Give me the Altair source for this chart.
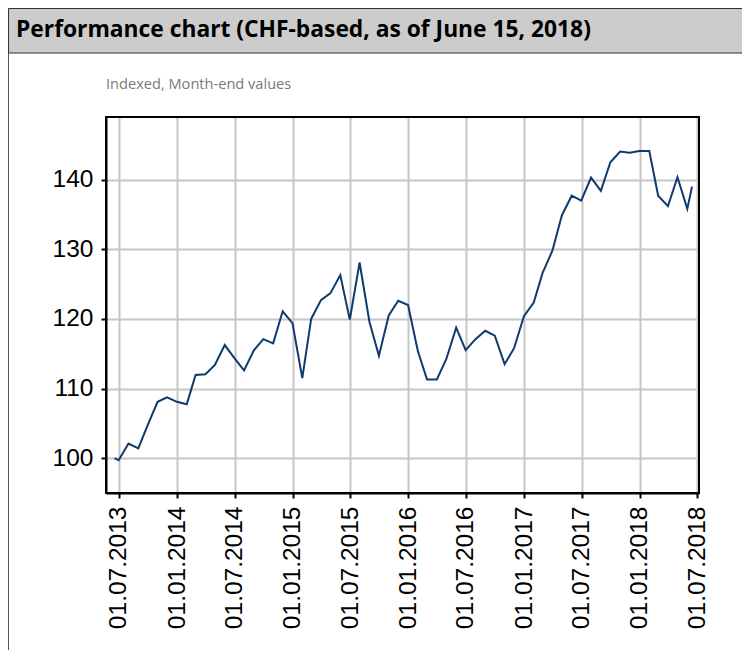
import altair as alt
import pandas as pd

# ---- data ----
dates = [
    "2013-06-17", "2013-06-30", "2013-07-31", "2013-08-31", "2013-09-30", "2013-10-31",
    "2013-11-30", "2013-12-31", "2014-01-31", "2014-02-28", "2014-03-31", "2014-04-30",
    "2014-05-31", "2014-06-30", "2014-07-31", "2014-08-31", "2014-09-30", "2014-10-31",
    "2014-11-30", "2014-12-31", "2015-01-31", "2015-02-28", "2015-03-31", "2015-04-30",
    "2015-05-31", "2015-06-30", "2015-07-31", "2015-08-31", "2015-09-30", "2015-10-31",
    "2015-11-30", "2015-12-31", "2016-01-31", "2016-02-29", "2016-03-31", "2016-04-30",
    "2016-05-31", "2016-06-30", "2016-07-31", "2016-08-31", "2016-09-30", "2016-10-31",
    "2016-11-30", "2016-12-31", "2017-01-31", "2017-02-28", "2017-03-31", "2017-04-30",
    "2017-05-31", "2017-06-30", "2017-07-31", "2017-08-31", "2017-09-30", "2017-10-31",
    "2017-11-30", "2017-12-31", "2018-01-31", "2018-02-28", "2018-03-31", "2018-04-30",
    "2018-05-31", "2018-06-15",
]
values = [
    100.0, 99.7, 102.1, 101.4, 104.8, 108.1,
    108.75, 108.1, 107.75, 111.95, 112.05, 113.4,
    116.25, 114.4, 112.6, 115.5, 117.1, 116.5,
    121.1, 119.4, 111.5, 120.0, 122.7, 123.7,
    126.3, 119.9, 128.1, 119.6, 114.7, 120.5,
    122.6, 122.0, 115.4, 111.3, 111.3, 114.25,
    118.75, 115.5, 117.1, 118.3, 117.6, 113.5,
    115.8, 120.4, 122.35, 126.6, 129.8, 134.9,
    137.7, 137.0, 140.3, 138.4, 142.5, 144.05,
    143.85, 144.1, 144.1, 137.7, 136.2, 140.35,
    135.8, 139.0,
]
x_ticks = [(2013, 7), (2014, 1), (2014, 7), (2015, 1), (2015, 7), (2016, 1),
           (2016, 7), (2017, 1), (2017, 7), (2018, 1), (2018, 7)]
y_ticks = [100, 110, 120, 130, 140]
title_text = "Performance chart (CHF-based, as of June 15, 2018)"
subtitle_text = "Indexed, Month-end values"

df = pd.DataFrame({"date": dates, "value": values})
one = pd.DataFrame({"k": [0]})

W, H = 593, 376
PAD_L, PAD_T = 98, 109
CANVAS_W, CANVAS_H = 734, 642

x_scale = alt.Scale(
    type="utc",
    domain=[alt.DateTime(year=2013, month=5, date=21, utc=True),
            alt.DateTime(year=2018, month=7, date=7, utc=True)],
)
y_scale = alt.Scale(domain=[95, 149], nice=False, zero=False)

line = alt.Chart(df).mark_line(color="#0d3b6c", strokeWidth=2).encode(
    x=alt.X("date:T", scale=x_scale,
            axis=alt.Axis(
                values=[alt.DateTime(year=y, month=m, date=1, utc=True) for y, m in x_ticks],
                format="%d.%m.%Y", labelAngle=-90, labelAlign="right",
                labelBaseline="middle", title=None, labelFontSize=24.5,
                labelFont="Liberation Sans", labelColor="#000", labelPadding=8,
                tickColor="#000", tickSize=5, tickWidth=2,
                domainColor="#000", domainWidth=2,
                gridColor="#c6c6c6", gridWidth=2, labelOverlap=False,
            )),
    y=alt.Y("value:Q", scale=y_scale,
            axis=alt.Axis(
                values=y_ticks, title=None, labelFontSize=24.5,
                labelFont="Liberation Sans", labelColor="#000", labelPadding=8,
                tickColor="#000", tickSize=5, tickWidth=2,
                domainColor="#000", domainWidth=2,
                gridColor="#c6c6c6", gridWidth=2,
            )),
)

frame = alt.Chart(one).mark_rect(fill=None, stroke="#000", strokeWidth=2).encode(
    x=alt.value(0), x2=alt.value(W), y=alt.value(0), y2=alt.value(H),
)
header = alt.Chart(one).mark_rect(fill="#cccccc", stroke="#333333", strokeWidth=1).encode(
    x=alt.value(-97.5), x2=alt.value(CANVAS_W - PAD_L + 5),
    y=alt.value(-PAD_T + 0.5), y2=alt.value(-64),
)
left_border = alt.Chart(one).mark_rule(color="#555555", strokeWidth=1).encode(
    x=alt.value(-97.5), y=alt.value(-64), y2=alt.value(CANVAS_H - PAD_T),
)
title = alt.Chart(one).mark_text(
    align="left", baseline="alphabetic", font="Open Sans", fontWeight="bold",
    fontSize=22.8, color="#000",
).encode(x=alt.value(-90), y=alt.value(-80), text=alt.value(title_text))
subtitle = alt.Chart(one).mark_text(
    align="left", baseline="middle", font="Open Sans", fontSize=14.6, color="#7a7a7a",
).encode(x=alt.value(0), y=alt.value(-32), text=alt.value(subtitle_text))

chart = alt.layer(header, left_border, title, subtitle, line, frame).properties(
    width=W, height=H,
    autosize=alt.AutoSizeParams(type="none"),
    padding={"left": PAD_L, "top": PAD_T, "right": CANVAS_W - PAD_L - W,
             "bottom": CANVAS_H - PAD_T - H},
).configure_view(stroke=None).configure(background="white")

chart.save("out.html", embed_options={"renderer": "svg", "actions": False})
